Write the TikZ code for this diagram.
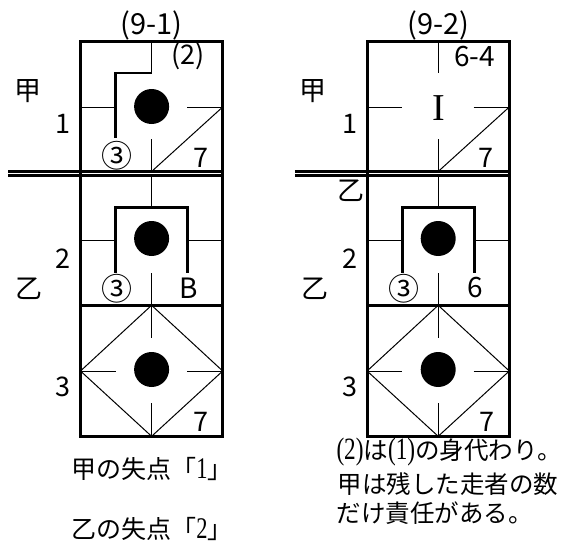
\documentclass[tikz,border=0pt]{standalone}
\usepackage{fontspec}
\newfontfamily\jp{Noto Sans CJK JP}
\newfontfamily\serifI{Liberation Serif}
\newfontfamily\serifN[FakeStretch=0.75]{Liberation Serif}
\newcommand\sd[2][31]{{\serifN\fontsize{#1}{#1}\selectfont #2}}
\tikzset{
  frame/.style={line width=3pt},
  dbl/.style={line width=2.5pt},
  heavy/.style={line width=2.7pt},
  thin/.style={line width=1pt},
  ball/.style={fill=black},
  lbl/.style={inner sep=0pt, font=\jp\fontsize{#1}{#1}\selectfont},
  lbl/.default=27,
  note/.style={inner sep=0pt, anchor=west, font=\jp\fontsize{24.5}{24.5}\selectfont},
}
\begin{document}
\begin{tikzpicture}[x=1pt,y=-1pt]
\useasboundingbox (0,0) rectangle (566,546);
% common geometry of both score sheets
\foreach \cx in {151.6,438.2}{
\begin{scope}[xshift=\cx pt]
  % frame
  \draw[frame] (-71.1,41) rectangle (71.1,436.3);
  \draw[dbl] (-143.4,171.5) -- (71.1,171.5);
  \draw[dbl] (-143.4,175.5) -- (71.1,175.5);
  \draw[frame] (-71.1,305.3) -- (71.1,305.3);
  % cell 1
  \draw[thin] (0,41) -- (0,73);
  \draw[thin] (-71.1,107) -- (-36,107);
  \draw[thin] (35.5,107) -- (71.1,107);
  \draw[thin] (0,139) -- (0,171.5);
  \draw[thin] (0,171.5) -- (71.1,107);
  % cell 2
  \draw[thin] (0,175.5) -- (0,207);
  \draw[thin] (-71.1,240) -- (-36,240);
  \draw[thin] (36,240) -- (71.1,240);
  \draw[thin] (0,273) -- (0,305.3);
  \draw[heavy] (-36,272.5) -- (-36,207.2) -- (36,207.2) -- (36,273.3);
  \fill[ball] (0,238.5) circle (17.5);
  % cell 3
  \draw[thin] (0,305.3) -- (-71.1,371) -- (0,436.3) -- (71.1,371) -- cycle;
  \draw[thin] (-71.1,371) -- (-36,371);
  \draw[thin] (35.5,371) -- (71.1,371);
  \draw[thin] (0,305.3) -- (0,338.3);
  \draw[thin] (0,403.3) -- (0,436.3);
  \fill[ball] (0,369.5) circle (17.5);
\end{scope}}
% left sheet, cell 1 specifics
\draw[heavy] (151.6,73) -- (115.6,73) -- (115.6,138);
\fill[ball] (151.6,106.5) circle (17.5);
% ---------- labels, left sheet ----------
\node[lbl=29] (t91) at (151.6,25) {(9-1)};
\node[lbl] (p2) at (188.3,56) {(2)};
\node[lbl] (kouL) at (27.8,91) {甲};
\node[lbl] (n1L) at (62.5,124) {1};
\node[lbl=31] (c3a) at (117,156) {③};
\node[lbl] (s7a) at (200.5,158) {7};
\node[lbl] (n2L) at (63.3,259) {2};
\node[lbl] (otsuL) at (28.7,289) {乙};
\node[lbl=31] (c3b) at (116.7,289) {③};
\node[lbl=28] (bB) at (188.3,288.5) {B};
\node[lbl] (n3L) at (63.3,386.7) {3};
\node[lbl] (s7b) at (200.5,422) {7};
\node[lbl=25] (capL1) at (152,469) {甲の失点「\sd[30]{1}」};
\node[lbl=25] (capL2) at (152,529) {乙の失点「\sd[30]{2}」};
% ---------- labels, right sheet ----------
\node[lbl=29] (t92) at (438.5,25) {(9-2)};
\node[lbl=28] (s64) at (474.7,57) {6-4};
\node[lbl] (kouR) at (313,91.5) {甲};
\node[lbl] (n1R) at (349.7,124) {1};
\node[inner sep=0pt, font=\serifI\fontsize{38}{38}\selectfont] (bigI) at (438.5,108) {I};
\node[lbl] (s7c) at (485.5,158) {7};
\node[lbl] (otsuR1) at (350.5,190.8) {乙};
\node[lbl] (n2R) at (349.7,259) {2};
\node[lbl] (otsuR2) at (314.7,289) {乙};
\node[lbl=31] (c3c) at (403.5,289) {③};
\node[lbl=28] (s6) at (475.5,288) {6};
\node[lbl] (n3R) at (349.7,386.7) {3};
\node[lbl] (s7d) at (487,422) {7};
\node[note] (nt1) at (336.3,452) {\sd{(2)}は\sd{(1)}の身代わり。};
\node[note] (nt2) at (337.5,484) {甲は残した走者の数};
\node[note] (nt3) at (336.3,513) {だけ責任がある。};
\end{tikzpicture}
\end{document}
